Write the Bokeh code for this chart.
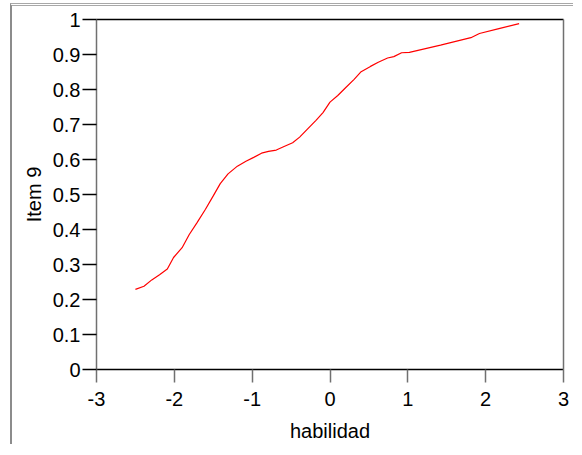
from bokeh.plotting import figure
from bokeh.layouts import column
from bokeh.models import Range1d, FixedTicker, LinearAxis
from bokeh.embed import file_html
from bokeh.resources import INLINE

# curve data
habilidad = [-2.50, -2.39, -2.29, -2.19, -2.09, -2.01, -1.90, -1.81, -1.71, -1.60,
             -1.50, -1.41, -1.31, -1.19, -1.08, -0.98, -0.88, -0.79, -0.69, -0.59,
             -0.48, -0.39, -0.29, -0.18, -0.09, 0.00, 0.10, 0.20, 0.31, 0.40,
             0.52, 0.62, 0.74, 0.82, 0.92, 1.02, 1.42, 1.81, 1.92, 2.17, 2.43]
item9 = [0.229, 0.238, 0.256, 0.271, 0.287, 0.320, 0.348, 0.385, 0.419, 0.458,
         0.496, 0.531, 0.559, 0.581, 0.595, 0.606, 0.618, 0.623, 0.627, 0.637,
         0.648, 0.664, 0.687, 0.712, 0.734, 0.764, 0.783, 0.805, 0.829, 0.851,
         0.866, 0.878, 0.890, 0.894, 0.905, 0.906, 0.927, 0.948, 0.960, 0.974, 0.988]

x_ticks = [-3, -2, -1, 0, 1, 2, 3]
x_tick_labels = ["-3", "-2", "-1", "0", "1", "2", "3"]
y_ticks = [0, 0.1, 0.2, 0.3, 0.4, 0.5, 0.6, 0.7, 0.8, 0.9, 1]
y_tick_labels = ["0", "0.1", "0.2", "0.3", "0.4", "0.5", "0.6", "0.7", "0.8", "0.9", "1"]

FONT = "Liberation Sans"

p = figure(width=568, height=447, output_backend="svg", toolbar_location=None,
           x_range=Range1d(-3, 3), y_range=Range1d(0, 1),
           min_border_left=84, min_border_top=13, min_border_right=10, min_border_bottom=10,
           x_axis_label="habilidad", y_axis_label="Item 9")
p.frame_width = 467
p.frame_height = 350
p.grid.visible = False
p.outline_line_color = None
p.background_fill_color = "white"
p.border_fill_color = None

p.line(habilidad, item9, line_color="#ff0000", line_width=1.2)

xa = p.xaxis[0]
xa.ticker = FixedTicker(ticks=x_ticks)
xa.major_label_overrides = {t: l for t, l in zip(x_ticks, x_tick_labels)}
xa.axis_line_color = "black"
xa.axis_line_width = 1.5
xa.major_tick_line_color = "#707070"
xa.major_tick_line_width = 1.5
xa.major_tick_out = 13
xa.major_tick_in = 0
xa.minor_tick_line_color = None
xa.major_label_text_font = FONT
xa.major_label_text_font_size = "20px"
xa.major_label_text_color = "black"
xa.major_label_standoff = 9
xa.axis_label_text_font = FONT
xa.axis_label_text_font_size = "20px"
xa.axis_label_text_font_style = "normal"
xa.axis_label_text_color = "black"
xa.axis_label_standoff = 11

ya = p.yaxis[0]
ya.ticker = FixedTicker(ticks=y_ticks)
ya.major_label_overrides = {t: l for t, l in zip(y_ticks, y_tick_labels)}
ya.axis_line_color = "#707070"
ya.axis_line_width = 1.5
ya.major_tick_line_color = "black"
ya.major_tick_line_width = 1.5
ya.major_tick_out = 14
ya.major_tick_in = 0
ya.minor_tick_line_color = None
ya.major_label_text_font = FONT
ya.major_label_text_font_size = "20px"
ya.major_label_text_color = "black"
ya.major_label_standoff = 2
ya.axis_label_text_font = FONT
ya.axis_label_text_font_size = "20px"
ya.axis_label_text_font_style = "normal"
ya.axis_label_text_color = "black"
ya.axis_label_standoff = 5

top = LinearAxis(axis_line_color="black", axis_line_width=1.5,
                 major_tick_line_color=None, minor_tick_line_color=None,
                 major_label_text_font_size="0px", ticker=FixedTicker(ticks=[]))
right = LinearAxis(axis_line_color="#707070", axis_line_width=1.5,
                   major_tick_line_color=None, minor_tick_line_color=None,
                   major_label_text_font_size="0px", ticker=FixedTicker(ticks=[]))
p.add_layout(top, "above")
p.add_layout(right, "right")

layout = column(p, styles={"border-left": "2px solid #8c8c8c", "border-top": "3px double #a8a8a8",
                           "margin-left": "10px", "margin-top": "3px"})

open("out.html", "w").write(file_html(layout, INLINE))
